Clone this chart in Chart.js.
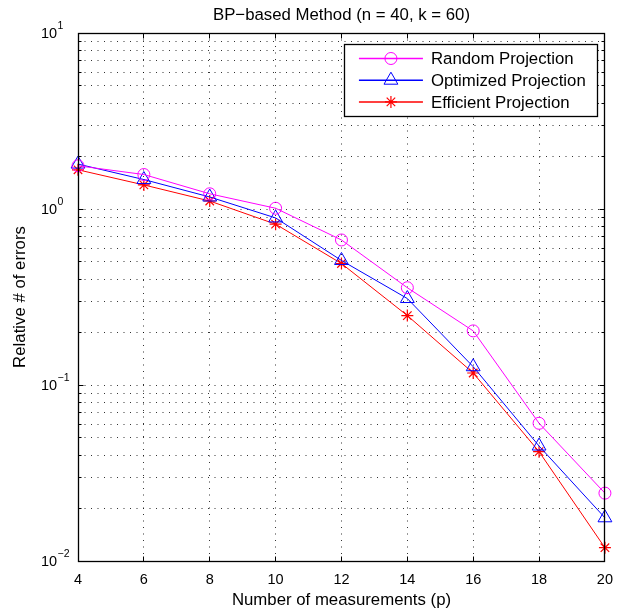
<!DOCTYPE html>
<html><head><meta charset="utf-8">
<script src="https://cdn.jsdelivr.net/npm/chart.js@4.4.1/dist/chart.umd.min.js"></script>
<style>html,body{margin:0;padding:0;background:#fff}#wrap{width:623px;height:614px;position:relative}</style>
</head><body><div id="wrap"><canvas id="c"></canvas></div>
<script>
// ---- data ----
const measurements = [4, 6, 8, 10, 12, 14, 16, 18, 20];
const randomProjection    = [1.76, 1.57, 1.22, 1.01, 0.667, 0.357, 0.203, 0.0606, 0.0243];
const optimizedProjection = [1.80, 1.47, 1.17, 0.89, 0.51, 0.31, 0.127, 0.045, 0.0176];
const efficientProjection = [1.67, 1.37, 1.11, 0.82, 0.49, 0.248, 0.117, 0.0418, 0.0119];
const seriesLabels = ['Random Projection', 'Optimized Projection', 'Efficient Projection'];
const xTicks = [4, 6, 8, 10, 12, 14, 16, 18, 20];
const yDecades = [-2, -1, 0, 1];
const titleText = 'BP\u2212based Method (n = 40, k = 60)';
const xLabel = 'Number of measurements (p)';
const yLabel = 'Relative # of errors';

const FONT = "'Liberation Sans', Arial, Helvetica, sans-serif";
const yTickValues = [];
for (let e = yDecades[0]; e < yDecades[yDecades.length - 1]; e++) {
  for (let m = 1; m <= 9; m++) yTickValues.push(parseFloat((m * Math.pow(10, e)).toPrecision(3)));
}
yTickValues.push(Math.pow(10, yDecades[yDecades.length - 1]));

function pts(arr) { return measurements.map((m, i) => ({ x: m, y: arr[i] })); }

const styles = [
  { color: '#ff00ff', pointStyle: 'circle', radius: 6, bw: 1 },
  { color: '#0000ff', pointStyle: 'triangle', radius: 8, bw: 1 },
  { color: '#ff0000', pointStyle: 'star', radius: 6, bw: 1.2 }
];
const seriesData = [randomProjection, optimizedProjection, efficientProjection];

function drawMarker(ctx, st, x, y) {
  ctx.save();
  ctx.strokeStyle = st.color;
  ctx.fillStyle = 'rgba(0,0,0,0)';
  ctx.lineWidth = st.bw;
  if (Chart.helpers && Chart.helpers.drawPoint) {
    Chart.helpers.drawPoint(ctx, { pointStyle: st.pointStyle, radius: st.radius, rotation: 0, borderWidth: st.bw }, x, y);
  }
  ctx.restore();
}

const matlabPlugin = {
  id: 'matlab',
  afterDraw(chart) {
    const ctx = chart.ctx, a = chart.chartArea, xs = chart.scales.x, ys = chart.scales.y;
    ctx.save();
    // frame
    ctx.strokeStyle = '#000';
    ctx.lineWidth = 1.3;
    const L = Math.floor(a.left) + 0.5, R = Math.floor(a.right) + 0.5, T = Math.floor(a.top) + 0.5, B = Math.floor(a.bottom) + 0.5;
    ctx.strokeRect(L, T, R - L, B - T);
    // inward ticks
    ctx.lineWidth = 1;
    ctx.beginPath();
    xTicks.forEach(v => {
      const px = Math.floor(xs.getPixelForValue(v)) + 0.5;
      ctx.moveTo(px, B); ctx.lineTo(px, B - 5);
      ctx.moveTo(px, T); ctx.lineTo(px, T + 5);
    });
    yTickValues.forEach(v => {
      const py = Math.floor(ys.getPixelForValue(v)) + 0.5;
      const major = Math.abs(Math.log10(v) - Math.round(Math.log10(v))) < 1e-9;
      const len = major ? 5 : 3;
      ctx.moveTo(L, py); ctx.lineTo(L + len, py);
      ctx.moveTo(R, py); ctx.lineTo(R - len, py);
    });
    ctx.stroke();

    // y tick labels with superscripts
    ctx.fillStyle = '#000';
    ctx.textAlign = 'left';
    ctx.textBaseline = 'middle';
    yDecades.forEach(e => {
      const py = ys.getPixelForValue(Math.pow(10, e));
      ctx.font = '14.5px ' + FONT;
      ctx.fillText('10', 41, py + 1);
      ctx.font = '10.5px ' + FONT;
      ctx.fillText(String(e).replace('-', '\u2212'), 57.5, py - 7);
    });

    // title
    const cx = (a.left + a.right) / 2;
    ctx.font = '16.8px ' + FONT;
    ctx.textAlign = 'center';
    ctx.textBaseline = 'alphabetic';
    ctx.fillText(titleText, cx, 20);
    // x label
    ctx.fillText(xLabel, cx, 605);
    // y label
    ctx.save();
    ctx.translate(20, (a.top + a.bottom) / 2);
    ctx.rotate(-Math.PI / 2);
    ctx.textBaseline = 'middle';
    ctx.fillText(yLabel, 0, 0);
    ctx.restore();

    // legend
    const lx = a.right - 260, ly = a.top + 11, lw = 253, lh = 72;
    ctx.fillStyle = '#fff';
    ctx.fillRect(lx, ly, lw, lh);
    ctx.strokeStyle = '#000';
    ctx.lineWidth = 1.3;
    ctx.strokeRect(Math.floor(lx) + 0.5, Math.floor(ly) + 0.5, lw, lh);
    seriesLabels.forEach((lab, i) => {
      const ry = ly + 14.5 + i * 21.7;
      const st = styles[i];
      ctx.strokeStyle = st.color;
      ctx.lineWidth = 1.5;
      ctx.beginPath();
      ctx.moveTo(lx + 14, ry); ctx.lineTo(lx + 78, ry);
      ctx.stroke();
      drawMarker(ctx, st, lx + 46, ry);
      ctx.fillStyle = '#000';
      ctx.font = '16.8px ' + FONT;
      ctx.textAlign = 'left';
      ctx.textBaseline = 'middle';
      ctx.fillText(lab, lx + 86, ry + 1);
    });
    ctx.restore();
  }
};

const datasets = seriesData.map((arr, i) => ({
  label: seriesLabels[i],
  data: pts(arr),
  borderColor: styles[i].color,
  backgroundColor: 'rgba(0,0,0,0)',
  borderWidth: 1,
  pointStyle: styles[i].pointStyle,
  pointRadius: styles[i].radius,
  pointBorderWidth: styles[i].bw,
  pointBorderColor: styles[i].color,
  pointBackgroundColor: 'rgba(0,0,0,0)',
  tension: 0,
  clip: false
}));

new Chart(document.getElementById('c'), {
  type: 'line',
  data: { datasets },
  options: {
    responsive: true,
    maintainAspectRatio: false,
    animation: false,
    events: [],
    layout: { padding: { top: 33, right: 16, left: 0, bottom: 0 } },
    plugins: { legend: { display: false }, title: { display: false }, tooltip: { enabled: false } },
    scales: {
      x: {
        type: 'linear', min: 4, max: 20,
        afterBuildTicks: s => { s.ticks = xTicks.map(v => ({ value: v })); },
        ticks: { font: { family: FONT, size: 14.5 }, color: '#000', padding: 10, maxRotation: 0, autoSkip: false },
        grid: { color: 'rgba(0,0,0,0.8)', lineWidth: 1, drawTicks: false },
        border: { display: false, dash: [1, 5.5] },
        afterFit: s => { s.height = 53; }
      },
      y: {
        type: 'logarithmic', min: 0.01, max: 10,
        afterBuildTicks: s => { s.ticks = yTickValues.map(v => ({ value: v })); },
        ticks: { display: false, autoSkip: false },
        grid: { color: 'rgba(0,0,0,0.8)', lineWidth: 1, drawTicks: false },
        border: { display: false, dash: [1, 5.5] },
        afterFit: s => { s.width = 78; }
      }
    }
  },
  plugins: [matlabPlugin]
});
</script>
</body></html>
